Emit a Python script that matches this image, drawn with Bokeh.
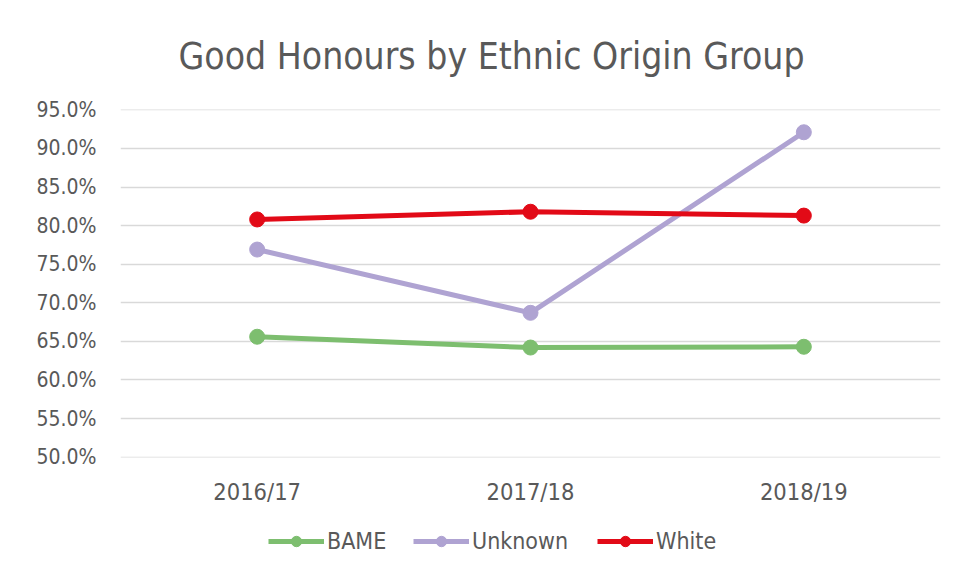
from bokeh.plotting import figure
from bokeh.layouts import column
from bokeh.models import Legend, LegendItem, NumeralTickFormatter, FixedTicker, Range1d, Title
from bokeh.embed import file_html
from bokeh.resources import INLINE

years = ["2016/17", "2017/18", "2018/19"]
bame = [0.656, 0.642, 0.643]
unknown = [0.769, 0.687, 0.921]
white = [0.808, 0.818, 0.813]
y_ticks = [0.50, 0.55, 0.60, 0.65, 0.70, 0.75, 0.80, 0.85, 0.90, 0.95]
series_names = ["BAME", "Unknown", "White"]

colors = {"BAME": "#7dbe6f", "Unknown": "#afa3d2", "White": "#e20a17"}
FONT = "DejaVu Sans Condensed"
TXT = "#595959"

p = figure(x_range=years, y_range=Range1d(0.4995, 0.9505), frame_width=820, frame_height=348,
           output_backend="svg", toolbar_location=None,
           min_border_left=120, min_border_right=17, min_border_top=109, min_border_bottom=70)
p.title = None
p.outline_line_color = None
p.background_fill_color = "white"
p.border_fill_color = "white"

t = Title(text="Good Honours by Ethnic Origin Group", align="left", offset=58, standoff=64,
          text_font=FONT, text_font_size="37px", text_font_style="normal", text_color=TXT)
p.add_layout(t, "above")

p.yaxis.ticker = FixedTicker(ticks=y_ticks)
p.yaxis.formatter = NumeralTickFormatter(format="0.0%")
p.yaxis.axis_line_color = None
p.yaxis.major_tick_line_color = None
p.yaxis.minor_tick_line_color = None
p.yaxis.major_tick_out = 0
p.yaxis.minor_tick_out = 0
p.yaxis.major_label_standoff = 24
p.yaxis.major_label_text_font = FONT
p.yaxis.major_label_text_font_size = "21px"
p.yaxis.major_label_text_color = TXT

p.xaxis.axis_line_color = None
p.xaxis.major_tick_line_color = None
p.xaxis.major_tick_out = 0
p.xaxis.major_label_standoff = 20
p.xaxis.major_label_text_font = FONT
p.xaxis.major_label_text_font_size = "23.5px"
p.xaxis.major_label_text_color = TXT

p.xgrid.grid_line_color = None
p.ygrid.grid_line_color = "#d9d9d9"
p.ygrid.grid_line_width = 1.5

for name, vals in zip(series_names, [bame, unknown, white]):
    c = colors[name]
    p.line(years, vals, line_color=c, line_width=5)
    p.scatter(years, vals, size=15, fill_color=c, line_color=c)

# legend strip below the chart
p2 = figure(frame_width=957, frame_height=46, x_range=Range1d(0, 1), y_range=Range1d(0, 1),
            x_axis_type=None, y_axis_type=None, output_backend="svg", toolbar_location=None,
            min_border=0, min_border_left=0, min_border_right=0, min_border_top=0, min_border_bottom=0)
p2.outline_line_color = None
p2.background_fill_color = "white"
p2.border_fill_color = "white"

legend_x = [268, 413, 597]
for name, lx in zip(series_names, legend_x):
    c = colors[name]
    l = p2.line([-10, -9], [-10, -9], line_color=c, line_width=5)
    s = p2.scatter([-10, -9], [-10, -9], size=15, fill_color=c, line_color=c)
    lg = Legend(items=[LegendItem(label=name, renderers=[l, s])], location=(lx, 19),
                label_text_font=FONT, label_text_font_size="23px", label_text_color=TXT,
                glyph_width=56, glyph_height=26, label_standoff=3,
                border_line_color=None, background_fill_alpha=0, margin=0, padding=0)
    p2.add_layout(lg, "center")

layout = column(p, p2, spacing=0)
open("out.html", "w").write(file_html(layout, INLINE))
